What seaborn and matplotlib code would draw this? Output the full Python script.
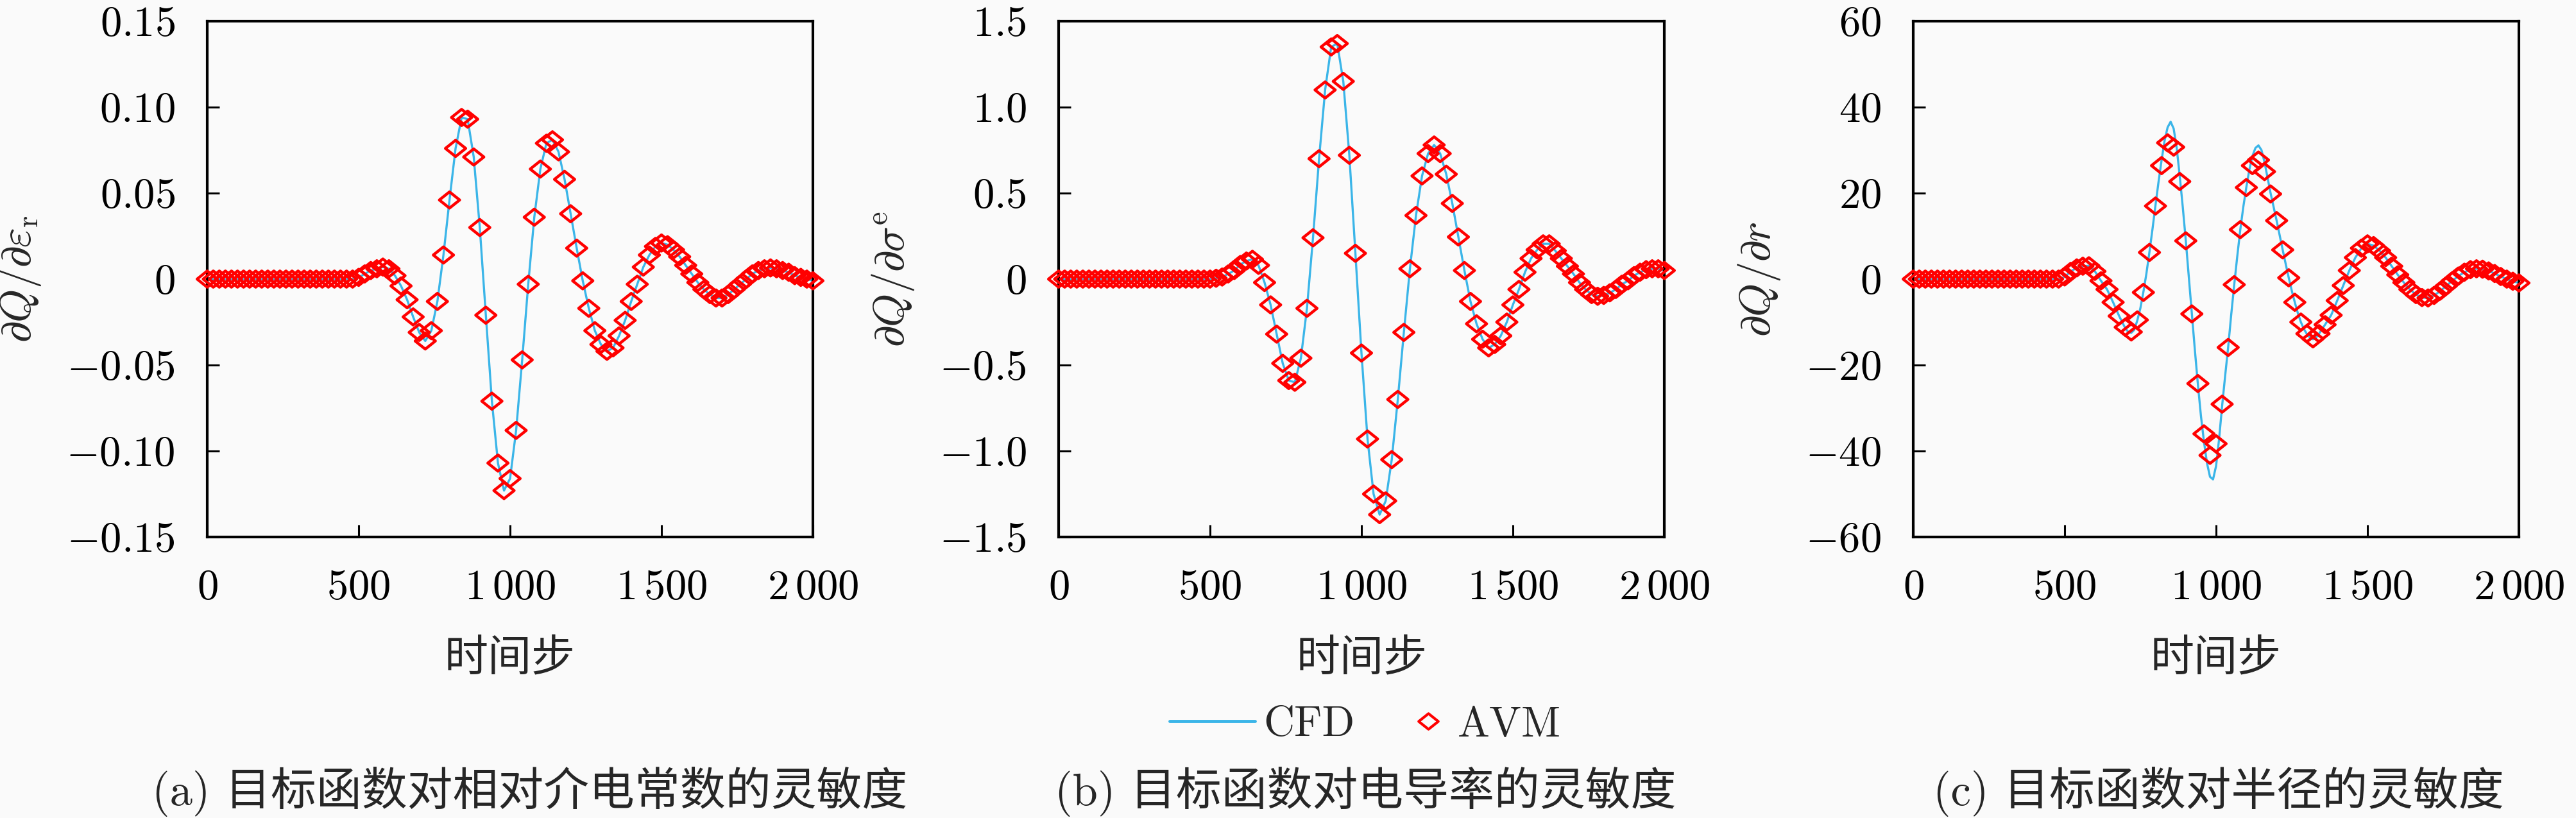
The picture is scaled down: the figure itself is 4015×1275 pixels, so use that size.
import numpy as np
import matplotlib
matplotlib.use("Agg")
import matplotlib.pyplot as plt
import seaborn as sns
from matplotlib.lines import Line2D
from matplotlib.path import Path

# time steps of the AVM samples (every 20 steps)
steps = np.arange(0, 2001, 20)

# dQ/d eps_r  (panel a)
avm_eps = [
    0, 0, 0, 0, 0, 0, 0, 0, 0, 0, 0, 0, 0, 0, 0, 0, 0, 0, 0, 0, 0, 0, 0, 0, 0,
    0.001, 0.003, 0.005, 0.006, 0.007, 0.006, 0.002, -0.004, -0.012, -0.022,
    -0.031, -0.036, -0.030, -0.013, 0.014, 0.046, 0.076, 0.094, 0.093, 0.071,
    0.030, -0.021, -0.071, -0.107, -0.123, -0.116, -0.088, -0.047, -0.003, 0.036,
    0.064, 0.079, 0.081, 0.074, 0.058, 0.038, 0.018, -0.001, -0.017, -0.030,
    -0.038, -0.042, -0.040, -0.033, -0.024, -0.013, -0.003, 0.007, 0.014, 0.019,
    0.021, 0.020, 0.017, 0.013, 0.008, 0.003, -0.002, -0.006, -0.009, -0.011,
    -0.011, -0.009, -0.006, -0.003, 0.000, 0.003, 0.005, 0.006, 0.0065, 0.006,
    0.005, 0.004, 0.002, 0.001, 0.000, -0.001,
]

# dQ/d sigma_e  (panel b)
avm_sigma = [
    0, 0, 0, 0, 0, 0, 0, 0, 0, 0, 0, 0, 0, 0, 0, 0, 0, 0, 0, 0, 0, 0, 0, 0, 0, 0,
    0.005, 0.012, 0.03, 0.05, 0.085, 0.105, 0.115, 0.08, -0.02, -0.15,
    -0.32, -0.49, -0.59, -0.60, -0.46, -0.17, 0.24, 0.70, 1.10, 1.35,
    1.37, 1.15, 0.72, 0.15, -0.43, -0.93, -1.25, -1.37, -1.29, -1.05,
    -0.70, -0.31, 0.06, 0.37, 0.60, 0.73, 0.78, 0.73, 0.61, 0.44,
    0.245, 0.05, -0.13, -0.26, -0.35, -0.40, -0.38, -0.33, -0.25, -0.15,
    -0.06, 0.04, 0.12, 0.17, 0.205, 0.205, 0.165, 0.12, 0.075, 0.03,
    -0.02, -0.06, -0.09, -0.10, -0.095, -0.08, -0.06, -0.03, -0.01, 0.02,
    0.04, 0.055, 0.06, 0.06, 0.05,
]

# dQ/dr  (panel c)
avm_r = [
    0, 0, 0, 0, 0, 0, 0, 0, 0, 0, 0, 0, 0, 0, 0, 0, 0, 0, 0, 0, 0, 0, 0, 0, 0,
    0.5, 1.8, 2.6, 3.0, 3.1, 1.8, -0.4, -2.4, -5.4, -8.6,
    -11.2, -12.3, -9.5, -3.1, 6.2, 17.0, 26.4, 31.7, 30.7, 22.7,
    8.9, -8.1, -24.3, -36.0, -41.0, -38.3, -29.1, -15.9, -1.3, 11.5,
    21.3, 26.4, 27.7, 25.0, 19.8, 13.6, 6.8, 0.3, -5.4, -10.0,
    -12.7, -13.9, -12.7, -10.6, -8.4, -5.0, -1.5, 2.0, 5.0, 7.2,
    8.2, 7.8, 6.6, 5.0, 3.0, 1.0, -0.8, -2.4, -3.6, -4.3,
    -4.4, -3.8, -2.8, -1.6, -0.4, 0.7, 1.6, 2.2, 2.4, 2.3,
    1.9, 1.3, 0.6, 0.0, -0.5, -0.9,
]

# CFD for panel c is finer around the main pulse (700..1330, every 10 steps)
cfd_r_core = [
    -11.4, -12.3, -12.5, -11.8, -9.6, -6.8, -3.0, 1.3, 6.3, 11.6,
    17.2, 22.6, 27.6, 32.2, 35.3, 36.6, 35.0, 30.5, 24.0, 16.8,
    9.0, 0.5, -8.2, -16.5, -24.5, -31.8, -37.8, -42.8, -46.0, -46.6,
    -43.5, -37.2, -29.5, -22.5, -15.8, -8.3, -1.3, 5.3, 11.5, 16.8,
    21.4, 25.5, 28.6, 30.5, 31.1, 30.0, 27.2, 23.6, 20.0, 16.8,
    13.6, 10.2, 6.8, 3.5, 0.3, -2.7, -5.4, -7.9, -10.0, -11.6,
    -12.8, -13.6, -14.0, -13.6,
]
cfd_r_steps = np.concatenate([np.arange(0, 700, 20), np.arange(700, 1340, 10),
                              np.arange(1340, 2001, 20)])
cfd_r = avm_r[:35] + cfd_r_core + avm_r[67:]

# CFD and AVM agree to reading precision in panels a and b
cfd_eps = avm_eps
cfd_sigma = avm_sigma

x_ticks = [0, 500, 1000, 1500, 2000]
x_ticklabels = ["0", "500", r"1\,000", r"1\,500", r"2\,000"]

y_ticks = [
    [-0.15, -0.10, -0.05, 0, 0.05, 0.10, 0.15],
    [-1.5, -1.0, -0.5, 0, 0.5, 1.0, 1.5],
    [-60, -40, -20, 0, 20, 40, 60],
]
y_ticklabels = [
    ["-0.15", "-0.10", "-0.05", "0", "0.05", "0.10", "0.15"],
    ["-1.5", "-1.0", "-0.5", "0", "0.5", "1.0", "1.5"],
    ["-60", "-40", "-20", "0", "20", "40", "60"],
]
y_labels = [
    r"$\partial Q/\partial \varepsilon_{\mathrm{r}}$",
    r"$\partial Q/\partial \sigma^{\mathrm{e}}$",
    r"$\partial Q/\partial r$",
]
captions = [
    "(a) 目标函数对相对介电常数的灵敏度",
    "(b) 目标函数对电导率的灵敏度",
    "(c) 目标函数对半径的灵敏度",
]
caption_x = [826, 2128, 3458]
x_label = "时间步"

sns.set_style("ticks")
plt.rcParams["mathtext.fontset"] = "cm"
plt.rcParams["font.family"] = ["cmr10", "Noto Sans CJK SC", "DejaVu Sans"]
plt.rcParams["axes.unicode_minus"] = True

BLUE = "#3bb5e8"
RED = "#ff0000"
BG = "#fafafa"
FS = 48

diamond = Path([(-1, 0), (0, 0.8), (1, 0), (0, -0.8), (-1, 0)],
               [Path.MOVETO, Path.LINETO, Path.LINETO, Path.LINETO, Path.CLOSEPOLY])

W, H = 4016, 1275
fig = plt.figure(figsize=(W / 100, H / 100), dpi=100, facecolor=BG)

lefts = [323, 1650, 2982]
ax_w, ax_top, ax_bot = 944, 33, 837

series = [
    (steps, cfd_eps, avm_eps),
    (steps, cfd_sigma, avm_sigma),
    (cfd_r_steps, cfd_r, avm_r),
]

for i, (cfd_t, cfd_v, avm_v) in enumerate(series):
    ax = fig.add_axes([lefts[i] / W, 1 - ax_bot / H, ax_w / W, (ax_bot - ax_top) / H])
    ax.set_facecolor(BG)

    sns.lineplot(x=cfd_t, y=cfd_v, ax=ax, color=BLUE, linewidth=2.4, zorder=2)
    sns.scatterplot(x=steps, y=avm_v, ax=ax, marker=diamond, s=520, color=RED,
                    facecolors="none", edgecolor=RED, linewidth=3.2,
                    clip_on=False, zorder=3, legend=False)

    ax.set_xlim(0, 2000)
    ax.set_ylim(y_ticks[i][0], y_ticks[i][-1])
    ax.set_xticks(x_ticks)
    ax.set_xticklabels([f"${s}$" for s in x_ticklabels])
    ax.set_yticks(y_ticks[i])
    ax.set_yticklabels([f"${s}$" for s in y_ticklabels[i]])
    ax.tick_params(direction="in", length=14, width=2.2, labelsize=FS, pad=36,
                   top=False, right=False, colors="black")
    for sp in ax.spines.values():
        sp.set_visible(True)
        sp.set_linewidth(3)
        sp.set_color("black")

    ax.set_ylabel(y_labels[i], fontsize=FS, labelpad=26)
    ax.set_xlabel(x_label, fontsize=49, family=["Noto Sans CJK SC"], labelpad=32)

    fig.text(caption_x[i] / W, 1 - 1234 / H, captions[i], ha="center", va="center",
             fontsize=51, family=["cmr10", "Noto Sans CJK SC"])

# legend: line entry and marker entry placed side by side under panel b
cfd_handle = Line2D([], [], color=BLUE, linewidth=3.5)
avm_handle = Line2D([], [], marker=diamond, linestyle="none", markersize=22,
                    markerfacecolor="none", markeredgecolor=RED, markeredgewidth=3)
fig.legend([cfd_handle], ["CFD"], loc="center left", bbox_to_anchor=(1823 / W, 1 - 1130 / H),
           frameon=False, fontsize=FS, handlelength=2.0, handletextpad=0.2,
           borderpad=0, borderaxespad=0)
fig.legend([avm_handle], ["AVM"], loc="center left", bbox_to_anchor=(2199 / W, 1 - 1130 / H),
           frameon=False, fontsize=FS, handlelength=0.8, handletextpad=0.3,
           borderpad=0, borderaxespad=0)

fig.savefig("out.png", dpi=100, facecolor=BG)
